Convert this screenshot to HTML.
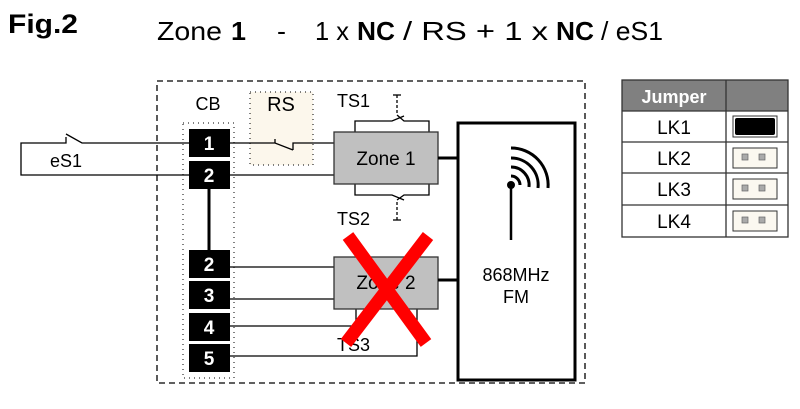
<!DOCTYPE html>
<html><head><meta charset="utf-8"><style>
html,body{margin:0;padding:0;background:#fff;}
svg{display:block;font-family:"Liberation Sans",Arial,sans-serif;}
</style></head><body>
<svg width="800" height="409" viewBox="0 0 800 409" xmlns="http://www.w3.org/2000/svg">
<rect width="800" height="409" fill="#fff"/>
<!-- title -->
<text x="8" y="33" font-size="27" font-weight="bold" fill="#000" textLength="70" lengthAdjust="spacingAndGlyphs">Fig.2</text>
<g font-size="26" fill="#000">
<text x="157" y="40" textLength="65" lengthAdjust="spacingAndGlyphs">Zone</text>
<text x="231" y="40" font-weight="bold" textLength="15" lengthAdjust="spacingAndGlyphs">1</text>
<text x="277" y="40" textLength="9" lengthAdjust="spacingAndGlyphs">-</text>
<text x="315" y="40" textLength="34" lengthAdjust="spacingAndGlyphs">1 x</text>
<text x="357" y="40" font-weight="bold" textLength="38" lengthAdjust="spacingAndGlyphs">NC</text>
<text x="403" y="40" textLength="145" lengthAdjust="spacingAndGlyphs">/ RS + 1 x</text>
<text x="556" y="40" font-weight="bold" textLength="38" lengthAdjust="spacingAndGlyphs">NC</text>
<text x="601" y="40" textLength="62" lengthAdjust="spacingAndGlyphs">/ eS1</text>
</g>

<!-- outer dashed box -->
<rect x="157" y="81" width="428" height="302" fill="none" stroke="#000" stroke-width="1.3" stroke-dasharray="6,4"/>
<!-- RS dotted box -->
<rect x="250" y="92" width="63" height="73" fill="#fcf7ec" stroke="#000" stroke-width="1" stroke-dasharray="1,4"/>
<!-- CB dotted box -->
<rect x="183" y="123" width="51" height="255" fill="none" stroke="#000" stroke-width="1" stroke-dasharray="1,4"/>

<text x="208" y="110" font-size="18" text-anchor="middle">CB</text>
<text x="281" y="111" font-size="20" text-anchor="middle">RS</text>
<text x="337" y="107" font-size="18">TS1</text>
<text x="337" y="225" font-size="18">TS2</text>

<g stroke="#000" stroke-width="1.3" fill="none">
<polyline points="189,143 82,143 66,134"/>
<polyline points="66,137 66,143 21,143 21,175 189,175"/>
<polyline points="230,143 275,143 293,150"/>
<polyline points="275,139 275,143"/>
<polyline points="293,150 293,143 335,143"/>
<line x1="230" y1="175" x2="335" y2="175"/>
<polyline points="355,132 355,121 392,121 404,116"/>
<polyline points="397,115 404,121 429,121 429,132"/>
<polyline points="397,95 397,114" stroke-dasharray="3,2"/>
<line x1="393" y1="95" x2="401" y2="95"/>
<polyline points="355,184 355,195 392,195 404,200"/>
<polyline points="397,200 404,195 429,195 429,184"/>
<polyline points="397,202 397,220" stroke-dasharray="3,2"/>
<line x1="393" y1="220" x2="401" y2="220"/>
<line x1="230" y1="267" x2="335" y2="267"/>
<line x1="230" y1="299" x2="335" y2="299"/>
<polyline points="230,326 356,326 356,309"/>
<polyline points="230,356 417,356 417,309"/>
</g>
<text x="50" y="167" font-size="18">eS1</text>

<line x1="209" y1="189" x2="209" y2="251" stroke="#000" stroke-width="3"/>

<g fill="#000">
<rect x="189" y="129" width="41" height="28"/>
<rect x="189" y="161" width="41" height="28"/>
<rect x="189" y="250" width="41" height="28"/>
<rect x="189" y="281" width="41" height="28"/>
<rect x="189" y="313" width="41" height="28"/>
<rect x="189" y="344" width="41" height="28"/>
</g>
<g fill="#fff" font-size="19" font-weight="bold" text-anchor="middle">
<text x="209" y="150">1</text>
<text x="209" y="182">2</text>
<text x="209" y="271">2</text>
<text x="209" y="302">3</text>
<text x="209" y="334">4</text>
<text x="209" y="365">5</text>
</g>

<rect x="334" y="132" width="104" height="52" fill="#c0c0c0" stroke="#333" stroke-width="1.3"/>
<text x="386" y="165" font-size="19" text-anchor="middle">Zone 1</text>
<rect x="334" y="257" width="104" height="52" fill="#c0c0c0" stroke="#333" stroke-width="1.3"/>
<text x="386" y="289" font-size="19" text-anchor="middle">Zone 2</text>
<text x="337" y="351" font-size="18">TS3</text>

<line x1="438" y1="158" x2="457" y2="158" stroke="#000" stroke-width="3"/>
<line x1="438" y1="280" x2="457" y2="280" stroke="#000" stroke-width="3"/>

<rect x="458" y="123" width="117" height="257" fill="none" stroke="#000" stroke-width="3"/>
<text x="516" y="281" font-size="18" text-anchor="middle">868MHz</text>
<text x="516" y="303" font-size="18" text-anchor="middle">FM</text>
<line x1="511" y1="185" x2="511" y2="240" stroke="#000" stroke-width="2.5"/>
<circle cx="511" cy="185" r="4" fill="#000"/>
<g fill="none" stroke="#000" stroke-width="3">
<path d="M511,176 A9,9 0 0 1 520,185"/>
<path d="M511,167 A18,18 0 0 1 529,187"/>
<path d="M511,158 A27,27 0 0 1 538,188"/>
<path d="M511,148 A37,37 0 0 1 548,188"/>
</g>

<g stroke="#f00" stroke-width="13">
<line x1="348" y1="236" x2="426" y2="343"/>
<line x1="428" y1="236" x2="346" y2="343"/>
</g>

<rect x="622" y="80" width="166" height="31" fill="#808080"/>
<text x="674" y="103" font-size="18" font-weight="bold" fill="#fff" text-anchor="middle">Jumper</text>
<g stroke="#333" stroke-width="1.3" fill="none">
<rect x="622" y="80" width="166" height="157"/>
<line x1="726" y1="80" x2="726" y2="237"/>
<line x1="622" y1="111" x2="788" y2="111"/>
<line x1="622" y1="142" x2="788" y2="142"/>
<line x1="622" y1="173" x2="788" y2="173"/>
<line x1="622" y1="205" x2="788" y2="205"/>
</g>
<g font-size="19" text-anchor="middle">
<text x="674" y="134">LK1</text>
<text x="674" y="165">LK2</text>
<text x="674" y="196">LK3</text>
<text x="674" y="228">LK4</text>
</g>
<rect x="733" y="116" width="44" height="21" fill="#fff" stroke="#333" stroke-width="1"/>
<rect x="735" y="118" width="40" height="17" rx="2" fill="#000"/>
<g stroke="#333" stroke-width="1" fill="#fbf8f0">
<rect x="733" y="148" width="44" height="20"/>
<rect x="733" y="179" width="44" height="20"/>
<rect x="733" y="211" width="44" height="20"/>
</g>
<g fill="#aaa" stroke="#666" stroke-width="0.7">
<rect x="742" y="154" width="6" height="6"/><rect x="759" y="154" width="6" height="6"/>
<rect x="742" y="185" width="6" height="6"/><rect x="759" y="185" width="6" height="6"/>
<rect x="742" y="217" width="6" height="6"/><rect x="759" y="217" width="6" height="6"/>
</g>
</svg>
</body></html>
